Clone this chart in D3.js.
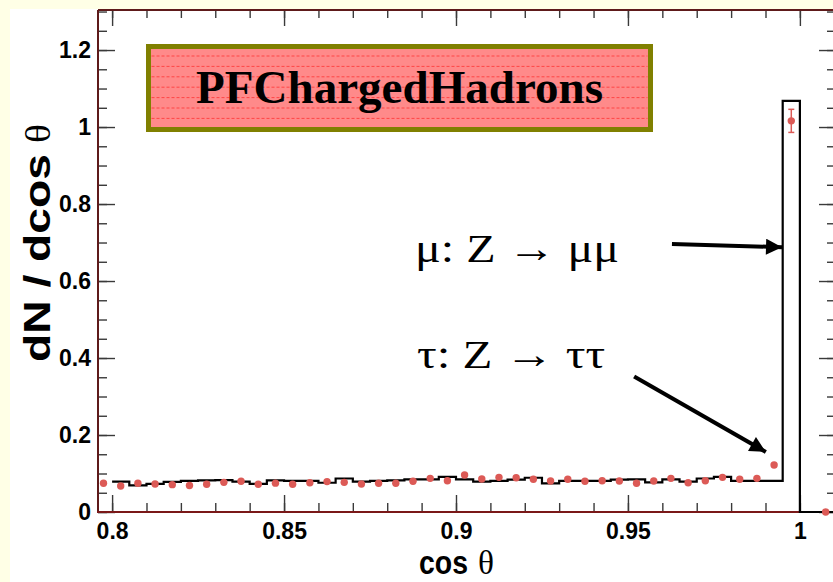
<!DOCTYPE html>
<html><head><meta charset="utf-8">
<script src="https://cdn.jsdelivr.net/npm/d3@7"></script>
<style>html,body{margin:0;padding:0;background:#FFFFE6;}svg{display:block}</style>
</head><body>
<svg id="chart" width="833" height="582"></svg>
<script>
// ---------------- data ----------------
const histEdges = [0.800,0.805,0.810,0.815,0.820,0.825,0.830,0.835,0.840,0.845,
                   0.850,0.855,0.860,0.865,0.870,0.875,0.880,0.885,0.890,0.895,
                   0.900,0.905,0.910,0.915,0.920,0.925,0.930,0.935,0.940,0.945,
                   0.950,0.955,0.960,0.965,0.970,0.975,0.980,0.985,0.990,0.995];
const histValues = [0.079,0.069,0.073,0.078,0.081,0.082,0.083,0.079,0.073,0.082,
                    0.081,0.081,0.076,0.087,0.079,0.081,0.082,0.085,0.085,0.091,
                    0.085,0.079,0.081,0.084,0.089,0.0745,0.081,0.081,0.081,0.084,
                    0.085,0.077,0.085,0.079,0.087,0.091,0.081,0.081,0.081,1.068];
const histEnd = 1.0;

const pointX = [0.7975,0.8025,0.8075,0.8125,0.8175,0.8225,0.8275,0.8325,0.8375,0.8425,
                0.8475,0.8525,0.8575,0.8625,0.8675,0.8725,0.8775,0.8825,0.8875,0.8925,
                0.8975,0.9025,0.9075,0.9125,0.9175,0.9225,0.9275,0.9325,0.9375,0.9425,
                0.9475,0.9525,0.9575,0.9625,0.9675,0.9725,0.9775,0.9825,0.9875,0.9925,
                0.9975,1.0075];
const pointY = [0.0745,0.0675,0.0745,0.0727,0.071,0.069,0.072,0.077,0.0797,0.072,
                0.075,0.072,0.076,0.079,0.077,0.0727,0.0745,0.0745,0.0797,0.0874,
                0.081,0.096,0.0857,0.09,0.089,0.085,0.0805,0.085,0.0797,0.081,
                0.0805,0.0745,0.0805,0.0874,0.076,0.081,0.09,0.085,0.0874,0.122,
                1.016,0];
const pointErr = [0.003,0.003,0.003,0.003,0.003,0.003,0.003,0.003,0.003,0.003,
                  0.003,0.003,0.003,0.003,0.003,0.003,0.003,0.003,0.003,0.003,
                  0.003,0.003,0.003,0.003,0.003,0.003,0.003,0.003,0.003,0.003,
                  0.003,0.003,0.003,0.003,0.003,0.003,0.003,0.003,0.003,0.004,
                  0.030,0];

const xTickValues = [0.8,0.85,0.9,0.95,1.0];
const xTickLabels = ["0.8","0.85","0.9","0.95","1"];
const yTickValues = [0,0.2,0.4,0.6,0.8,1.0,1.2];
const yTickLabels = ["0","0.2","0.4","0.6","0.8","1","1.2"];

const titleText = "PFChargedHadrons";
const xTitle = ["cos", "\u03B8"];
const yTitle = ["dN / dcos", "\u03B8"];
const annotations = [
  {text:"\u03BC: Z \u2192 \u03BC\u03BC", x:0.8881, y:0.649, len:204, from:[0.9628,0.696], to:[0.9948,0.688]},
  {text:"\u03C4: Z \u2192 \u03C4\u03C4", x:0.8887, y:0.375, len:188, from:[0.9518,0.352], to:[0.9901,0.156]}
];

// ---------------- layout ----------------
const svg = d3.select("#chart");
const L = 98, R = 836, T = 10, B = 512;
const x = d3.scaleLinear().domain([0.7959, 1.0105]).range([L, R]);
const y = d3.scaleLinear().domain([0, 1.304]).range([B, T]);
const frameColor = "#5e1a1a";

svg.append("rect").attr("x",10).attr("y",9).attr("width",823).attr("height",573).attr("fill","#ffffff");

const xMinor = x.ticks(22).filter(v => v >= 0.7999 && v <= 1.0101);
const yMinor = d3.range(0, 1.3001, 0.05);

function tickAxis(axisFn, scale, vals, size, transform){
  const g = svg.append("g").attr("transform", transform)
    .call(axisFn(scale).tickValues(vals).tickSize(size).tickFormat(""));
  g.select(".domain").remove();
  g.selectAll(".tick line").attr("stroke","#3a3a3a").attr("stroke-width",1.4);
  return g;
}
tickAxis(d3.axisBottom, x, xMinor, -9, `translate(0,${B})`);
tickAxis(d3.axisBottom, x, xTickValues, -17, `translate(0,${B})`);
tickAxis(d3.axisTop, x, xMinor, -8, `translate(0,${T})`);
tickAxis(d3.axisTop, x, xTickValues, -16, `translate(0,${T})`);
tickAxis(d3.axisLeft, y, yMinor, -9, `translate(${L},0)`);
tickAxis(d3.axisLeft, y, yTickValues, -17, `translate(${L},0)`);
tickAxis(d3.axisRight, y, yMinor, -9, `translate(${R},0)`);
tickAxis(d3.axisRight, y, yTickValues, -17, `translate(${R},0)`);

// tick labels
const xl = svg.append("g").attr("transform",`translate(0,${B})`)
  .call(d3.axisBottom(x).tickValues(xTickValues).tickSize(0).tickPadding(0)
        .tickFormat((d,i)=>xTickLabels[i]));
xl.select(".domain").remove();
xl.selectAll("text").attr("dy",null).attr("y",27)
  .attr("font-family","Liberation Sans, Arial, sans-serif").attr("font-weight","bold")
  .attr("font-size",23).attr("fill","#000");

const yl = svg.append("g").attr("transform",`translate(${L},0)`)
  .call(d3.axisLeft(y).tickValues(yTickValues).tickSize(0).tickPadding(7)
        .tickFormat((d,i)=>yTickLabels[i]));
yl.select(".domain").remove();
yl.selectAll("text").attr("font-family","Liberation Sans, Arial, sans-serif")
  .attr("font-weight","bold").attr("font-size",23).attr("fill","#000");

// frame
svg.append("line").attr("x1",L).attr("x2",R).attr("y1",T).attr("y2",T).attr("stroke",frameColor).attr("stroke-width",2);
svg.append("line").attr("x1",R).attr("x2",R).attr("y1",T).attr("y2",B).attr("stroke",frameColor).attr("stroke-width",2);
svg.append("line").attr("x1",L).attr("x2",L).attr("y1",T).attr("y2",B+1).attr("stroke",frameColor).attr("stroke-width",2);
svg.append("line").attr("x1",L-1).attr("x2",R).attr("y1",B).attr("y2",B).attr("stroke","#7a1818").attr("stroke-width",2);

// histogram
const hp = d3.path();
histEdges.forEach((e,i)=>{
  const x0 = x(e), x1 = x(i < histEdges.length-1 ? histEdges[i+1] : histEnd), yy = y(histValues[i]);
  if(i===0) hp.moveTo(x0, yy); else hp.lineTo(x0, yy);
  hp.lineTo(x1, yy);
});
hp.lineTo(x(histEnd), y(0));
hp.lineTo(R, y(0));
svg.append("path").attr("d",hp.toString()).attr("fill","none").attr("stroke","#000").attr("stroke-width",2.2);

// points
const pts = pointX.map((v,i)=>({x:v, y:pointY[i], e:pointErr[i]}));
const ptColor = "#dc5a56";
svg.append("g").selectAll("g").data(pts.filter(d=>d.e>0.01)).join("g").each(function(d){
  const g = d3.select(this);
  g.append("line").attr("x1",x(d.x)).attr("x2",x(d.x)).attr("y1",y(d.y-d.e)).attr("y2",y(d.y+d.e)).attr("stroke",ptColor).attr("stroke-width",1.5);
  g.append("line").attr("x1",x(d.x)-3).attr("x2",x(d.x)+3).attr("y1",y(d.y-d.e)).attr("y2",y(d.y-d.e)).attr("stroke",ptColor).attr("stroke-width",1.5);
  g.append("line").attr("x1",x(d.x)-3).attr("x2",x(d.x)+3).attr("y1",y(d.y+d.e)).attr("y2",y(d.y+d.e)).attr("stroke",ptColor).attr("stroke-width",1.5);
});
svg.append("g").selectAll("circle").data(pts).join("circle")
  .attr("cx",d=>x(d.x)).attr("cy",d=>y(d.y)).attr("r",3.7).attr("fill",ptColor);

// title box
const bx = 148.5, by = 46.5, bw = 502, bh = 83;
svg.append("rect").attr("x",bx).attr("y",by).attr("width",bw).attr("height",bh)
  .attr("fill","#ff8a8a").attr("stroke","#808000").attr("stroke-width",5);
svg.append("g").selectAll("line").data(d3.range(56, 125, 10.4)).join("line")
  .attr("x1",bx+3).attr("x2",bx+bw-3).attr("y1",d=>d).attr("y2",d=>d)
  .attr("stroke","#ff4545").attr("stroke-width",1).attr("stroke-dasharray","3,2");
svg.append("text").attr("x",bx+bw/2).attr("y",102.5).attr("text-anchor","middle")
  .attr("font-family","Liberation Serif, Times New Roman, serif").attr("font-weight","bold")
  .attr("font-size",47).attr("textLength",407).attr("lengthAdjust","spacingAndGlyphs")
  .attr("fill","#000").text(titleText);

// axis titles (two pieces each: sans bold + serif theta)
svg.append("text").attr("x",419).attr("y",574)
  .attr("font-family","Liberation Sans, Arial, sans-serif").attr("font-weight","bold")
  .attr("font-size",34).attr("textLength",49).attr("lengthAdjust","spacingAndGlyphs")
  .attr("fill","#000").text(xTitle[0]);
svg.append("text").attr("x",478).attr("y",574)
  .attr("font-family","Liberation Serif, serif").attr("font-size",34)
  .attr("textLength",16).attr("lengthAdjust","spacingAndGlyphs")
  .attr("fill","#000").text(xTitle[1]);

svg.append("text").attr("transform","translate(50,362) rotate(-90)")
  .attr("font-family","Liberation Sans, Arial, sans-serif").attr("font-weight","bold")
  .attr("font-size",37).attr("textLength",208).attr("lengthAdjust","spacingAndGlyphs")
  .attr("fill","#000").text(yTitle[0]);
svg.append("text").attr("transform","translate(50,143) rotate(-90)")
  .attr("font-family","Liberation Serif, serif").attr("font-size",35)
  .attr("textLength",19).attr("lengthAdjust","spacingAndGlyphs")
  .attr("fill","#000").text(yTitle[1]);

// annotations
svg.append("defs").append("marker").attr("id","ah").attr("viewBox","0 0 10 10")
  .attr("refX",10).attr("refY",5).attr("markerWidth",5.5).attr("markerHeight",4)
  .attr("markerUnits","strokeWidth").attr("orient","auto")
  .append("path").attr("d","M0,0 L10,5 L0,10 Z").attr("fill","#000");
annotations.forEach(a=>{
  svg.append("text").attr("x",x(a.x)).attr("y",y(a.y))
    .attr("font-family","Liberation Serif, Times New Roman, serif").attr("font-size",40)
    .attr("textLength",a.len).attr("lengthAdjust","spacingAndGlyphs").attr("fill","#000").text(a.text);
  svg.append("line").attr("x1",x(a.from[0])).attr("y1",y(a.from[1]))
    .attr("x2",x(a.to[0])).attr("y2",y(a.to[1]))
    .attr("stroke","#000").attr("stroke-width",4).attr("marker-end","url(#ah)");
});
</script>
</body></html>
